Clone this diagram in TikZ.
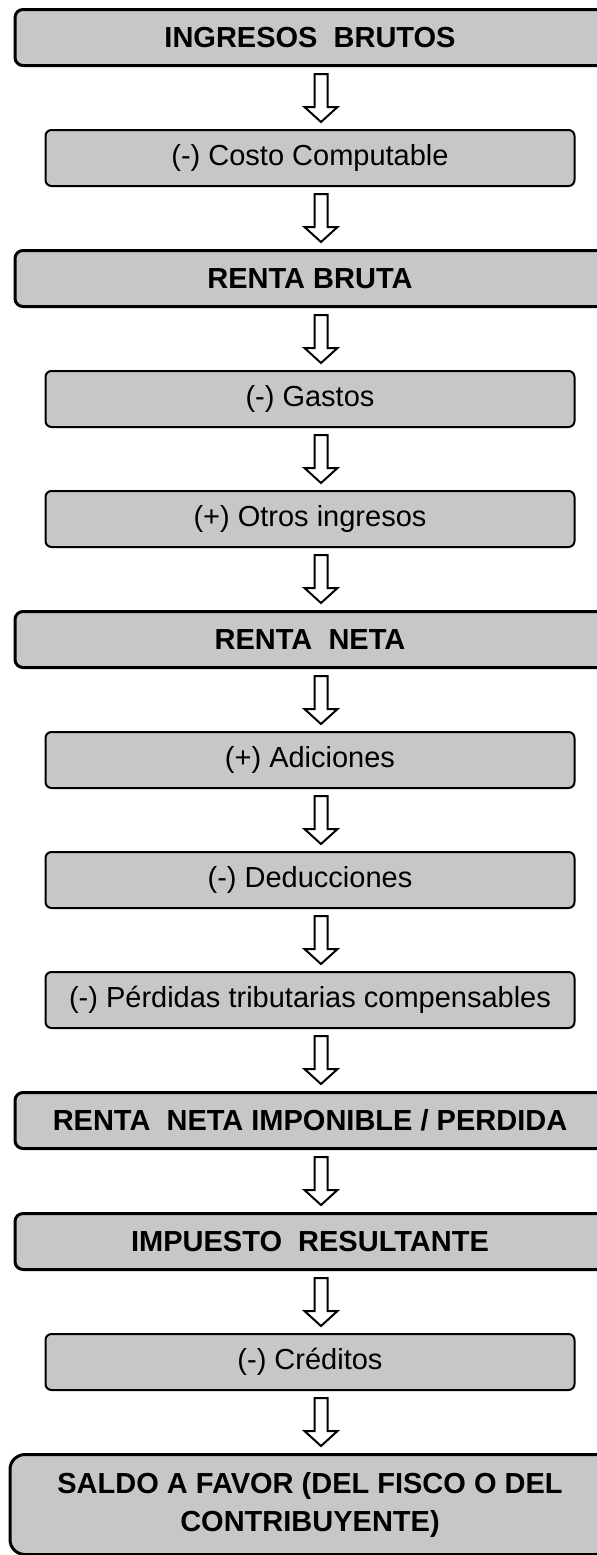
\documentclass[tikz,border=0pt]{standalone}
\usepackage{fontspec}
\setmainfont{Liberation Sans}
\usetikzlibrary{positioning,calc}

\begin{document}
\begin{tikzpicture}[
    caja/.style={draw, fill=black!22, rounded corners=3pt, line width=1pt, minimum width=264.5pt, minimum height=28pt, inner sep=0pt, font=\fontsize{14.5}{19}\selectfont},
    titulo/.style={caja, line width=1.5pt, rounded corners=4pt, minimum width=295pt, font=\fontsize{14.5}{19}\selectfont\bfseries},
    flecha/.style={draw, fill=white, line width=1pt, to path={
        let \p1=(\tikztostart.south), \p2=(\tikztotarget.north) in
        (\x1+2.25pt,\y1-3.5pt) -- (\x1+2.25pt,\y2+11pt) -- (\x1-2.75pt,\y2+11pt) -- (\x1+5.5pt,\y2+3.5pt)
        -- (\x1+13.75pt,\y2+11pt) -- (\x1+8.75pt,\y2+11pt) -- (\x1+8.75pt,\y1-3.5pt) -- cycle}},
    node distance=31pt]
      \useasboundingbox (0,0) rectangle (298.5pt,-777.5pt);
      \clip (0,0) rectangle (298.5pt,-777.5pt);

      \node[titulo, below] (ingresos) at (155pt,-4pt) {INGRESOS~~BRUTOS};
      \node[caja, below=of ingresos] (costo) {(-) Costo Computable};
      \node[titulo, below=of costo] (rbruta) {RENTA BRUTA};
      \node[caja, below=of rbruta] (gastos) {(-) Gastos};
      \node[caja, below=of gastos] (otros) {(+) Otros ingresos};
      \node[titulo, below=of otros] (rneta) {RENTA~~NETA};
      \node[caja, below=of rneta] (adic) {(+) Adiciones};
      \node[caja, below=of adic] (deduc) {(-) Deducciones};
      \node[caja, below=of deduc] (perd) {(-) Pérdidas tributarias compensables};
      \node[titulo, below=of perd] (rni) {RENTA~~NETA IMPONIBLE / PERDIDA};
      \node[titulo, below=of rni] (imp) {IMPUESTO~~RESULTANTE};
      \node[caja, below=of imp] (cred) {(-) Créditos};
      \node[titulo, below=of cred, minimum width=300pt, minimum height=50pt, rounded corners=7.5pt, align=center] (saldo) {SALDO A FAVOR (DEL FISCO O DEL\\CONTRIBUYENTE)};

      \draw[flecha] (ingresos) to (costo);
      \draw[flecha] (costo) to (rbruta);
      \draw[flecha] (rbruta) to (gastos);
      \draw[flecha] (gastos) to (otros);
      \draw[flecha] (otros) to (rneta);
      \draw[flecha] (rneta) to (adic);
      \draw[flecha] (adic) to (deduc);
      \draw[flecha] (deduc) to (perd);
      \draw[flecha] (perd) to (rni);
      \draw[flecha] (rni) to (imp);
      \draw[flecha] (imp) to (cred);
      \draw[flecha] (cred) to (saldo);
    \end{tikzpicture}
\end{document}
